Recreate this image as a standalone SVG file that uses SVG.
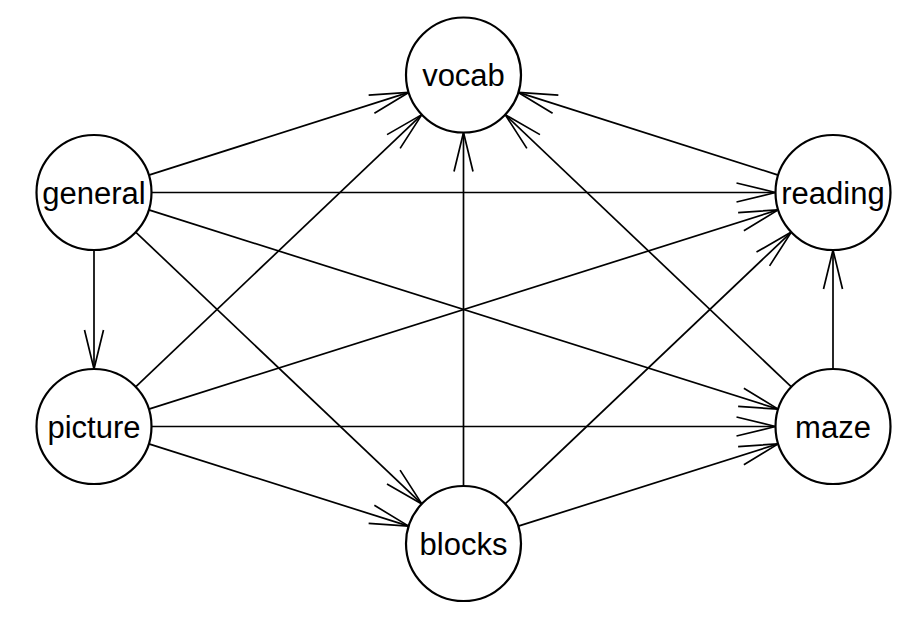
<svg xmlns="http://www.w3.org/2000/svg" width="918" height="624" viewBox="0 0 918 624">
<style>
.e{stroke:#000;stroke-width:1.7;fill:none;marker-end:url(#arr)}
.n circle{fill:#fff;stroke:#000;stroke-width:2.2}
.n text{font-family:"Liberation Sans",Arial,sans-serif;font-size:31px;text-anchor:middle;fill:#000}
</style>
<defs>
<marker id="arr" markerUnits="userSpaceOnUse" markerWidth="50" markerHeight="30" viewBox="-45 -15 50 30" refX="0" refY="0" orient="auto" overflow="visible">
<path d="M-39,-9.5 L0,0 L-39,9.5" fill="none" stroke="#000" stroke-width="1.7"/>
</marker>
</defs>
<rect width="918" height="624" fill="#fff"/>
<g id="edges">
<line class="e" x1="148.80" y1="175.07" x2="408.70" y2="92.43"/>
<line class="e" x1="151.5" y1="192.5" x2="775.5" y2="192.5"/>
<line class="e" x1="94" y1="250" x2="94" y2="369"/>
<line class="e" x1="148.82" y1="209.86" x2="778.18" y2="409.14"/>
<line class="e" x1="135.69" y1="232.10" x2="421.81" y2="503.90"/>
<line class="e" x1="135.66" y1="386.87" x2="421.84" y2="114.63"/>
<line class="e" x1="148.82" y1="409.14" x2="778.18" y2="209.86"/>
<line class="e" x1="151.5" y1="426.5" x2="775.5" y2="426.5"/>
<line class="e" x1="148.82" y1="443.86" x2="408.68" y2="526.14"/>
<line class="e" x1="463.5" y1="486" x2="463.5" y2="132.5"/>
<line class="e" x1="505.19" y1="503.90" x2="791.31" y2="232.10"/>
<line class="e" x1="518.32" y1="526.14" x2="778.18" y2="443.86"/>
<line class="e" x1="791.34" y1="386.87" x2="505.16" y2="114.63"/>
<line class="e" x1="833" y1="369" x2="833" y2="250"/>
<line class="e" x1="778.20" y1="175.07" x2="518.30" y2="92.43"/>
</g>
<g id="vocab" class="n"><circle cx="463.5" cy="75" r="57.5"/><text x="463.5" y="86">vocab</text></g>
<g id="general" class="n"><circle cx="94" cy="192.5" r="57.5"/><text x="94" y="203.5">general</text></g>
<g id="reading" class="n"><circle cx="833" cy="192.5" r="57.5"/><text x="833" y="203.5">reading</text></g>
<g id="picture" class="n"><circle cx="94" cy="426.5" r="57.5"/><text x="94" y="437.5">picture</text></g>
<g id="maze" class="n"><circle cx="833" cy="426.5" r="57.5"/><text x="833" y="437.5">maze</text></g>
<g id="blocks" class="n"><circle cx="463.5" cy="543.5" r="57.5"/><text x="463.5" y="554.5">blocks</text></g>
</svg>
